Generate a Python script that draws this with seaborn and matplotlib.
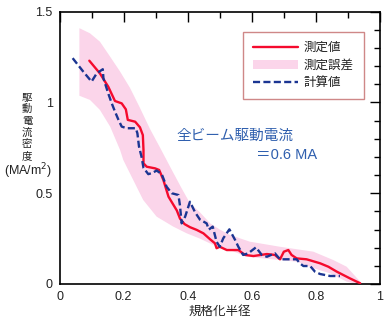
import numpy as np
import pandas as pd
import seaborn as sns
import matplotlib
matplotlib.use("Agg")
import matplotlib.pyplot as plt
from matplotlib.lines import Line2D
from matplotlib.patches import Patch

# Measured driven-current density profile
meas_r = [0.093, 0.126, 0.152, 0.173, 0.194, 0.207, 0.213, 0.236, 0.251, 0.260,
          0.262, 0.262, 0.272, 0.298, 0.311, 0.324, 0.340, 0.366, 0.376, 0.390,
          0.407, 0.428, 0.449, 0.470, 0.485, 0.490, 0.500, 0.522, 0.558, 0.579,
          0.605, 0.647, 0.672, 0.688, 0.700, 0.714, 0.724, 0.740, 0.771, 0.813,
          0.839, 0.865, 0.906, 0.938]
meas_j = [1.230, 1.160, 1.087, 1.008, 0.995, 0.962, 0.904, 0.894, 0.863, 0.820,
          0.738, 0.665, 0.646, 0.637, 0.628, 0.573, 0.481, 0.405, 0.360, 0.330,
          0.313, 0.298, 0.279, 0.246, 0.224, 0.197, 0.205, 0.187, 0.187, 0.160,
          0.154, 0.165, 0.160, 0.136, 0.178, 0.187, 0.160, 0.141, 0.136, 0.114,
          0.095, 0.068, 0.031, 0.004]

# Calculated profile
calc_r = [0.041, 0.074, 0.100, 0.116, 0.135, 0.137, 0.152, 0.163, 0.173, 0.184,
          0.194, 0.210, 0.238, 0.243, 0.248, 0.256, 0.262, 0.277, 0.290, 0.303,
          0.319, 0.334, 0.350, 0.371, 0.376, 0.381, 0.392, 0.407, 0.423, 0.438,
          0.459, 0.466, 0.478, 0.490, 0.500, 0.511, 0.530, 0.548, 0.558, 0.573,
          0.589, 0.613, 0.631, 0.647, 0.672, 0.688, 0.714, 0.740, 0.750, 0.761,
          0.782, 0.797, 0.813, 0.844, 0.875]
calc_j = [1.244, 1.170, 1.115, 1.160, 1.183, 1.133, 1.050, 0.995, 0.950, 0.904,
          0.867, 0.858, 0.858, 0.830, 0.757, 0.700, 0.640, 0.605, 0.612, 0.625,
          0.605, 0.536, 0.500, 0.490, 0.430, 0.334, 0.371, 0.453, 0.395, 0.355,
          0.334, 0.300, 0.316, 0.233, 0.205, 0.252, 0.301, 0.242, 0.205, 0.160,
          0.169, 0.202, 0.160, 0.150, 0.169, 0.136, 0.136, 0.136, 0.114, 0.099,
          0.099, 0.068, 0.055, 0.044, 0.044]

# Measurement error band (upper and lower edges)
err_up_r = [0.062, 0.095, 0.126, 0.158, 0.189, 0.220, 0.251, 0.282, 0.314, 0.345,
            0.381, 0.407, 0.438, 0.470, 0.500, 0.532, 0.594, 0.688, 0.792, 0.854,
            0.896, 0.938, 0.945]
err_up_j = [1.409, 1.381, 1.335, 1.252, 1.170, 1.080, 0.970, 0.855, 0.750, 0.646,
            0.527, 0.445, 0.395, 0.334, 0.300, 0.270, 0.233, 0.205, 0.178, 0.132,
            0.095, 0.013, 0.000]
err_lo_r = [0.062, 0.095, 0.126, 0.158, 0.189, 0.199, 0.230, 0.261, 0.303, 0.355,
            0.397, 0.438, 0.480, 0.532, 0.584, 0.688, 0.740, 0.792, 0.844, 0.896,
            0.927]
err_lo_j = [1.037, 1.014, 0.959, 0.867, 0.738, 0.683, 0.573, 0.463, 0.371, 0.316,
            0.279, 0.250, 0.215, 0.187, 0.150, 0.132, 0.123, 0.087, 0.059, 0.013,
            0.000]

x_ticks = [0, 0.2, 0.4, 0.6, 0.8, 1.0]
x_tick_labels = ["0", "0.2", "0.4", "0.6", "0.8", "1"]
y_ticks = [0, 0.5, 1.0, 1.5]
y_tick_labels = ["0", "0.5", "1", "1.5"]
y_label_chars = ["駆", "動", "電", "流", "密", "度"]
y_label_unit = "(MA/m$^2$)"

RED = "#f50a2d"
BLUE = "#1b3592"
PINK = "#fbd5ea"
TXT_BLUE = "#2f5fae"
INK = "#222222"

sns.set_theme(style="white")
plt.rcParams["font.family"] = ["Liberation Sans", "Noto Sans CJK JP", "DejaVu Sans"]

W, H = 390, 321
fig = plt.figure(figsize=(W / 100, H / 100), dpi=100)
ax = fig.add_axes([0.1526, 0.1153, 0.8218, 0.8483])

# error band as a closed polygon
band_x = np.concatenate([err_up_r, err_lo_r[::-1]])
band_y = np.concatenate([err_up_j, err_lo_j[::-1]])
ax.fill(band_x, band_y, color=PINK, lw=0, zorder=1)

meas = pd.DataFrame({"r": meas_r, "j": meas_j})
calc = pd.DataFrame({"r": calc_r, "j": calc_j})
sns.lineplot(data=meas, x="r", y="j", sort=False, estimator=None, ax=ax,
             color=RED, lw=1.7, zorder=3)
sns.lineplot(data=calc, x="r", y="j", sort=False, estimator=None, ax=ax,
             color=BLUE, lw=1.7, dashes=False, zorder=4)
ax.lines[-1].set_dashes((3.0, 1.4))

ax.set_xlim(0, 1)
ax.set_ylim(0, 1.5)
ax.set_xticks(x_ticks)
ax.set_xticklabels(x_tick_labels)
ax.set_yticks(y_ticks)
ax.set_yticklabels(y_tick_labels)
ax.set_xticks(np.arange(0, 1.01, 0.1), minor=True)
ax.set_yticks(np.arange(0, 1.51, 0.1), minor=True)
ax.tick_params(which="both", direction="in", top=True, right=True,
               color="black", width=1.0, labelsize=9, labelcolor=INK)
ax.tick_params(which="major", length=7, pad=5)
ax.tick_params(which="minor", length=4)
for s in ax.spines.values():
    s.set_color("black")
    s.set_linewidth(1.2)

ax.set_xlabel("規格化半径", fontsize=9, color=INK, labelpad=2)
ax.set_ylabel("")

# vertical stacked y-axis title, one upright glyph per row
for i, ch in enumerate(y_label_chars):
    fig.text(27 / W, 1 - (97.5 + 11.7 * i) / H, ch, ha="center", va="center",
             fontsize=7.5, color=INK, rotation=0)
fig.text(28 / W, 1 - 171 / H, y_label_unit, ha="center", va="center",
         fontsize=9, color=INK)

ax.text(0.366, 0.545, "全ビーム駆動電流", transform=ax.transAxes,
        fontsize=10.5, color=TXT_BLUE, ha="left", va="center")
ax.text(0.803, 0.475, "＝0.6 MA", transform=ax.transAxes,
        fontsize=10.5, color=TXT_BLUE, ha="right", va="center")

handles = [Line2D([], [], color=RED, lw=1.7),
           Patch(facecolor=PINK, edgecolor="none"),
           Line2D([], [], color=BLUE, lw=1.7, dashes=(3.0, 1.4))]
leg = ax.legend(handles, ["測定値", "測定誤差", "計算値"],
                loc="upper right", bbox_to_anchor=(0.95, 0.925),
                borderaxespad=0, fancybox=False, frameon=True,
                fontsize=9, handlelength=3.6, handletextpad=0.45,
                labelspacing=0.45, borderpad=0.8)
leg.get_frame().set_edgecolor("#c46a6a")
leg.get_frame().set_linewidth(1.0)
for t in leg.get_texts():
    t.set_color(INK)

fig.savefig("out.png", dpi=100)
